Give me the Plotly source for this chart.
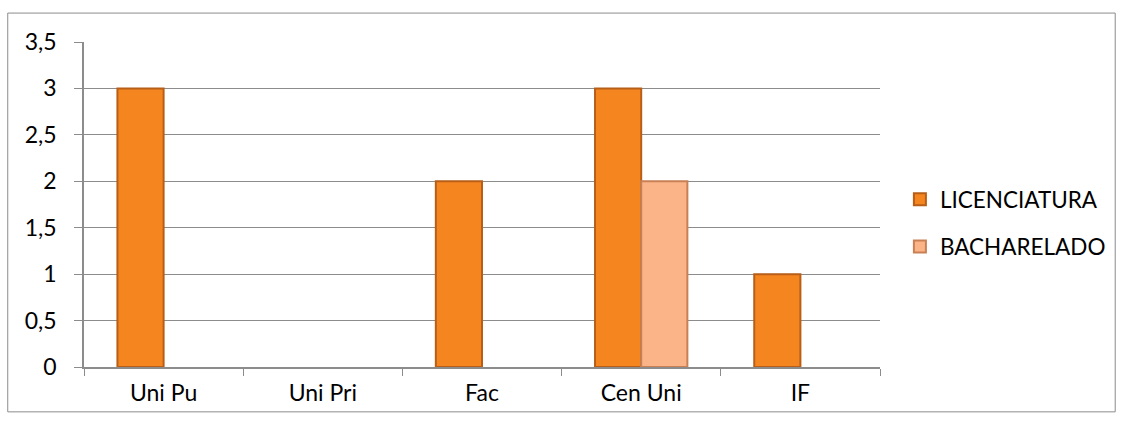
import plotly.graph_objects as go

categories = ["Uni Pu", "Uni Pri", "Fac", "Cen Uni", "IF"]
licenciatura = [3, None, 2, 3, 1]
bacharelado = [None, None, None, 2, None]
y_ticks = [0, 0.5, 1, 1.5, 2, 2.5, 3, 3.5]
y_tick_labels = ["0", "0,5", "1", "1,5", "2", "2,5", "3", "3,5"]

FONT = "Lato, 'Open Sans', sans-serif"

fig = go.Figure()
fig.add_trace(go.Bar(
    x=categories, y=licenciatura, name="LICENCIATURA",
    marker=dict(color="#F5861F", line=dict(color="#B85E17", width=2)),
    legendgroup="a",
))
fig.add_trace(go.Bar(
    x=categories, y=bacharelado, name="BACHARELADO",
    marker=dict(color="#FAB487", line=dict(color="#C98055", width=2)),
    legendgroup="b",
))

fig.update_layout(
    width=1123, height=424,
    margin=dict(l=84, r=235, t=42, b=57),
    paper_bgcolor="white", plot_bgcolor="white",
    barmode="group", bargap=0.42, bargroupgap=0,
    separators=", ",
    font=dict(family=FONT, size=23, color="#000000"),
    showlegend=True,
    legend=dict(
        x=1.025, y=0.443, xanchor="left", yanchor="middle",
        font=dict(size=22.5, family=FONT, color="#000000"),
        tracegroupgap=15, itemwidth=30,
        bgcolor="rgba(0,0,0,0)",
    ),
    shapes=[dict(
        type="rect", xref="paper", yref="paper",
        x0=-0.0958, x1=1.2955, y0=-0.138, y1=1.089,
        line=dict(color="#8C8C8C", width=1), fillcolor="rgba(0,0,0,0)",
        layer="below",
    )],
)
fig.update_xaxes(
    showline=True, linecolor="#8C8C8C", linewidth=1.5,
    ticks="outside", tickson="boundaries", ticklen=7, tickcolor="#8C8C8C",
    showgrid=False, tickfont=dict(size=23, family=FONT),
    ticklabelstandoff=5,
)
fig.update_yaxes(
    range=[0, 3.5], tickvals=y_ticks, ticktext=y_tick_labels,
    showline=True, linecolor="#8C8C8C", linewidth=1.5,
    ticks="outside", ticklen=8, tickcolor="#8C8C8C",
    showgrid=True, gridcolor="#8C8C8C", gridwidth=1.2,
    zeroline=False, tickfont=dict(size=23, family=FONT),
    ticklabelstandoff=13,
)

fig.write_html(
    "out.html",
    config={"displayModeBar": False},
    post_script="document.body.style.margin='0';",
)
